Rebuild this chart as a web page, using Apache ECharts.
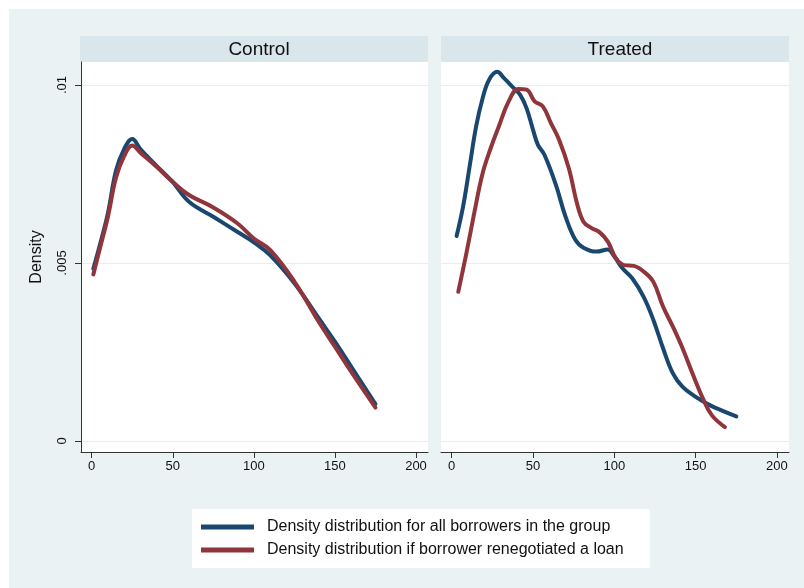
<!DOCTYPE html>
<html>
<head>
<meta charset="utf-8">
<script src="https://cdn.jsdelivr.net/npm/echarts@6/dist/echarts.min.js"></script>
<style>
  html, body { margin: 0; padding: 0; background: #fff; }
  #chart { width: 804px; height: 588px; }
</style>
</head>
<body>
<div id="chart"></div>
<script>
// kernel density estimates
var controlAllX = [1, 5, 10, 15, 20, 25, 30, 40, 50, 60, 75, 90, 100, 110, 125, 140, 150, 160, 175];
var controlAllY = [0.00484, 0.0055, 0.0064, 0.0076, 0.0082, 0.00848, 0.0082, 0.00773, 0.00727, 0.00672, 0.0063, 0.00587, 0.00558, 0.00522, 0.00443, 0.00345, 0.00279, 0.00209, 0.00104];
var controlRenegX = [1, 5, 10, 15, 20, 25, 30, 40, 50, 60, 75, 90, 100, 110, 125, 140, 150, 160, 175];
var controlRenegY = [0.00468, 0.0054, 0.0063, 0.0074, 0.008, 0.0083, 0.0081, 0.0077, 0.00728, 0.00691, 0.00656, 0.00611, 0.00569, 0.00537, 0.00448, 0.00335, 0.00265, 0.00195, 0.00094];

var treatedAllX = [3, 7, 11, 15, 19, 23, 28, 32, 38, 42, 46, 50, 53, 57, 64, 70, 76, 81, 89, 96, 100, 105, 111, 118, 124, 130, 136, 142, 150, 159, 167, 175];
var treatedAllY = [0.00576, 0.00659, 0.00771, 0.00884, 0.00963, 0.01015, 0.01037, 0.0102, 0.00992, 0.00973, 0.00935, 0.00874, 0.00832, 0.00804, 0.0072, 0.0063, 0.00565, 0.00543, 0.00532, 0.00538, 0.00518, 0.00485, 0.00457, 0.00405, 0.0034, 0.0026, 0.0019, 0.00152, 0.00124, 0.001, 0.00084, 0.00069];
var treatedRenegX = [4, 9, 14, 19, 24, 29, 35, 41, 46, 51, 56, 61, 66, 72, 77, 81, 86, 91, 96, 101, 106, 112, 118, 124, 130, 136, 142, 148, 155, 160, 168];
var treatedRenegY = [0.00419, 0.00527, 0.00644, 0.00752, 0.00823, 0.00884, 0.00954, 0.00989, 0.00987, 0.00954, 0.0094, 0.00893, 0.00846, 0.00766, 0.00668, 0.00616, 0.00598, 0.00586, 0.0056, 0.00513, 0.00494, 0.00492, 0.00476, 0.00447, 0.00377, 0.00321, 0.0026, 0.0019, 0.00114, 0.00072, 0.00039];

var panelTitles = ['Control', 'Treated'];
var xTicks = [0, 50, 100, 150, 200];
var yTicks = [0, 0.005, 0.01];
var yTickLabels = ['0', '.005', '.01'];
var seriesNames = ['Density distribution for all borrowers in the group', 'Density distribution if borrower renegotiated a loan'];

var FONT = 'Liberation Sans, Arial, sans-serif';
var BLUE = '#1a476f';
var RED = '#90353b';
var BG = '#eaf2f3';

function pairs(xs, ys) {
  return xs.map(function (x, i) { return [x, ys[i]]; });
}

function xAxisFor(idx) {
  return {
    type: 'value', gridIndex: idx, min: -6.6, max: 207.4,
    axisLine: { show: true, onZero: false, lineStyle: { color: '#333', width: 1 } },
    axisTick: { show: true, length: 6, customValues: xTicks, lineStyle: { color: '#333' } },
    axisLabel: { customValues: xTicks, color: '#111', fontSize: 13, fontFamily: FONT, margin: 8 },
    splitLine: { show: false }
  };
}

function yAxisFor(idx) {
  var first = idx === 0;
  return {
    type: 'value', gridIndex: idx, min: -0.000309, max: 0.010646,
    name: first ? 'Density' : '', nameLocation: 'middle', nameGap: 36,
    nameTextStyle: { color: '#111', fontSize: 16, fontFamily: FONT },
    axisLine: { show: first, onZero: false, lineStyle: { color: '#333', width: 1 } },
    axisTick: { show: first, length: 6, customValues: yTicks, lineStyle: { color: '#333' } },
    axisLabel: {
      show: first, customValues: yTicks, rotate: 90, color: '#111', fontSize: 13, fontFamily: FONT, margin: 12,
      formatter: function (v) {
        var i = yTicks.indexOf(v);
        return i >= 0 ? yTickLabels[i] : '';
      }
    },
    splitLine: { show: true, lineStyle: { color: '#e6eef0', width: 1 } }
  };
}

function lineSeries(name, data, color, idx) {
  return {
    name: name, type: 'line', xAxisIndex: idx, yAxisIndex: idx,
    data: data, smooth: 0.4, showSymbol: false, symbol: 'none',
    lineStyle: { color: color, width: 4, cap: 'round', join: 'round' },
    itemStyle: { color: color },
    emphasis: { disabled: true }
  };
}

var chart = echarts.init(document.getElementById('chart'), null, { renderer: 'canvas' });

chart.setOption({
  backgroundColor: '#fff',
  animation: false,
  graphic: [
    { type: 'rect', z: -10, shape: { x: 9, y: 9, width: 795, height: 579 }, style: { fill: BG } },
    { type: 'rect', z: -5, shape: { x: 80, y: 36, width: 348, height: 26 }, style: { fill: '#d9e6eb' } },
    { type: 'rect', z: -5, shape: { x: 441, y: 36, width: 348, height: 26 }, style: { fill: '#d9e6eb' } }
  ],
  title: [
    { text: panelTitles[0], left: 254, top: 35, textAlign: 'center', textStyle: { fontSize: 19, fontWeight: 'normal', color: '#111', fontFamily: FONT } },
    { text: panelTitles[1], left: 615, top: 35, textAlign: 'center', textStyle: { fontSize: 19, fontWeight: 'normal', color: '#111', fontFamily: FONT } }
  ],
  grid: [
    { left: 81, top: 62, width: 347, height: 390, show: true, backgroundColor: '#fff', borderWidth: 0 },
    { left: 441, top: 62, width: 348, height: 390, show: true, backgroundColor: '#fff', borderWidth: 0 }
  ],
  xAxis: [xAxisFor(0), xAxisFor(1)],
  yAxis: [yAxisFor(0), yAxisFor(1)],
  legend: {
    data: seriesNames,
    orient: 'vertical',
    left: 192, top: 509,
    backgroundColor: '#fff',
    padding: [10, 26, 10, 9],
    itemGap: 7,
    itemWidth: 53, itemHeight: 5,
    icon: 'rect',
    textStyle: { fontSize: 16, color: '#111', fontFamily: FONT, padding: [0, 0, 0, 8] },
    selectedMode: false
  },
  series: [
    lineSeries(seriesNames[0], pairs(controlAllX, controlAllY), BLUE, 0),
    lineSeries(seriesNames[1], pairs(controlRenegX, controlRenegY), RED, 0),
    lineSeries(seriesNames[0], pairs(treatedAllX, treatedAllY), BLUE, 1),
    lineSeries(seriesNames[1], pairs(treatedRenegX, treatedRenegY), RED, 1)
  ]
});
</script>
</body>
</html>
